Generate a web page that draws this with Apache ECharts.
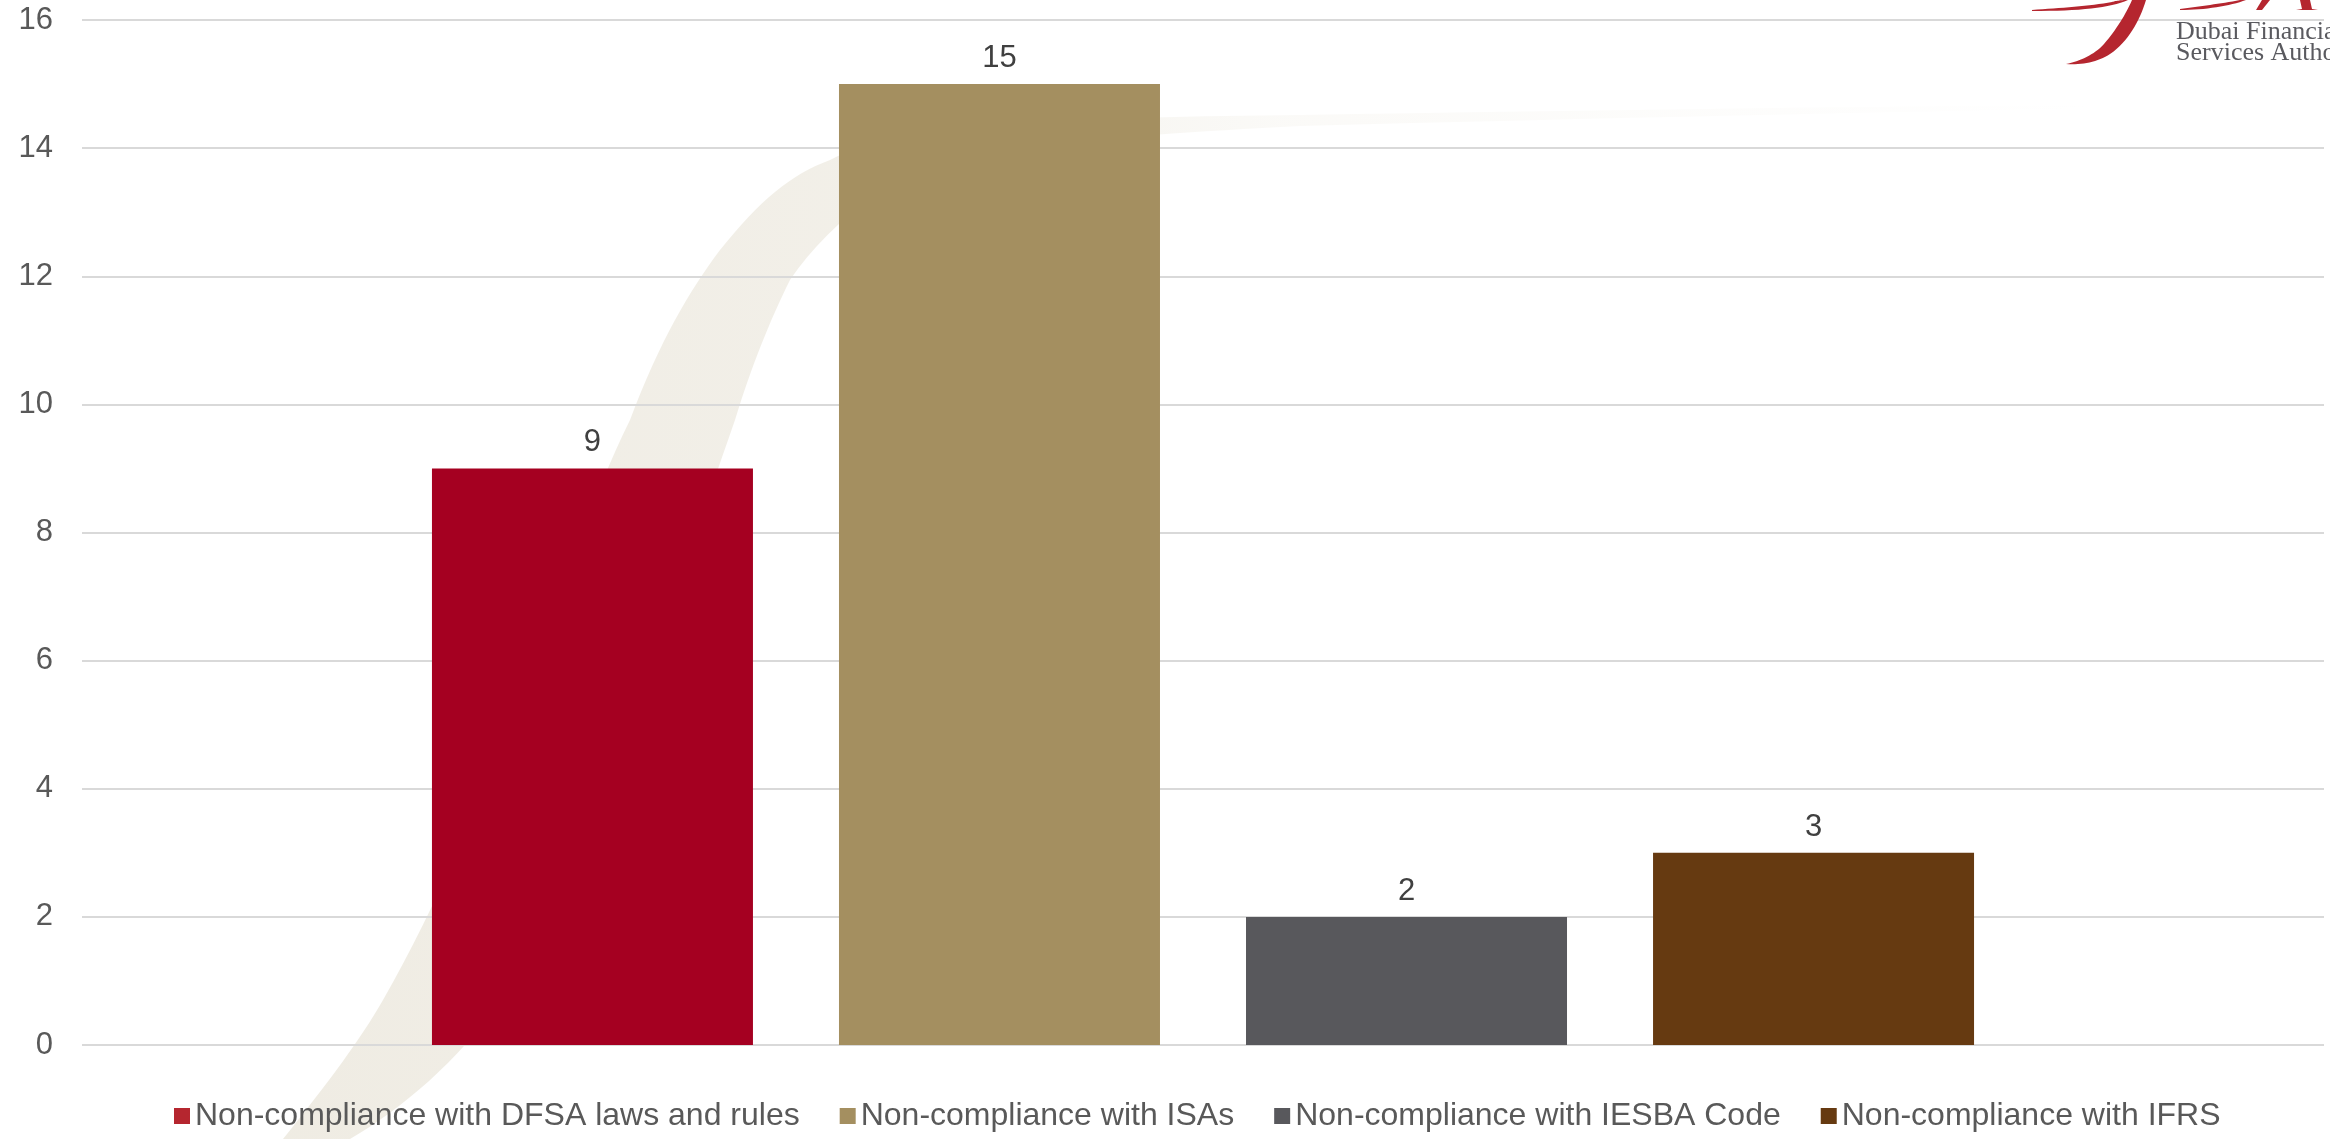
<!DOCTYPE html>
<html>
<head>
<meta charset="utf-8">
<title>Audit findings by type</title>
<script src="https://cdn.jsdelivr.net/npm/echarts@6/dist/echarts.min.js"></script>
<style>
  html, body { margin: 0; padding: 0; background: #ffffff; }
  #chart { width: 2330px; height: 1139px; }
</style>
</head>
<body>
<div id="chart"></div>
<script>
// Finding categories and counts
const categories = [
  'Non-compliance with DFSA laws and rules',
  'Non-compliance with ISAs',
  'Non-compliance with IESBA Code',
  'Non-compliance with IFRS'
];
const findings = [9, 15, 2, 3];
const barColors = ['#A50021', '#A48F60', '#58585C', '#663A11'];
const legendColors = ['#B5262F', '#A48F60', '#58585C', '#663A11'];

// Value axis range
const yMin = 0;
const yMax = 16;
const yStep = 2;

const FONT = '"Liberation Sans", Arial, Helvetica, sans-serif';

// Turn a run of cubic Bezier segments into polygon points
function curvePoints(start, segs) {
  const pts = [start.slice()];
  let p0 = start;
  segs.forEach(s => {
    const c1 = [s[0], s[1]], c2 = [s[2], s[3]], p3 = [s[4], s[5]];
    for (let k = 1; k <= 16; k++) {
      const t = k / 16, u = 1 - t;
      const a = u * u * u, b = 3 * u * u * t, c = 3 * u * t * t, d = t * t * t;
      pts.push([
        a * p0[0] + b * c1[0] + c * c2[0] + d * p3[0],
        a * p0[1] + b * c1[1] + c * c2[1] + d * p3[1]
      ]);
    }
    p0 = p3;
  });
  return pts;
}

const chart = echarts.init(document.getElementById('chart'), null, { renderer: 'canvas' });

const series = categories.map((name, i) => ({
  name: name,
  type: 'bar',
  data: [findings[i]],
  barWidth: 321,
  barGap: '26.8%',
  itemStyle: { color: barColors[i] },
  label: {
    show: true,
    position: 'top',
    distance: 10,
    color: '#404040',
    fontSize: 31,
    fontFamily: FONT
  },
  z: 3
}));

// Soft swoosh band behind the plot
const swoosh = curvePoints([283, 1139], [
  [330, 1080, 360, 1040, 383, 1000],
  [440, 900, 480, 800, 520, 700],
  [560, 600, 590, 500, 630, 420],
  [660, 340, 690, 290, 720, 250],
  [760, 200, 790, 175, 830, 160],
  [870, 140, 910, 128, 950, 125],
  [1100, 118, 1200, 116, 1300, 115],
  [1600, 110, 1900, 106, 2100, 105]
]).concat(curvePoints([2100, 108], [
  [1900, 112, 1600, 118, 1300, 126],
  [1200, 131, 1100, 138, 1000, 148],
  [940, 158, 900, 172, 880, 190],
  [840, 220, 810, 250, 790, 280],
  [770, 320, 750, 370, 735, 420],
  [700, 520, 670, 610, 640, 700],
  [600, 800, 560, 900, 500, 1000],
  [460, 1060, 400, 1110, 350, 1139]
]));

// Calligraphic strokes of the corner mark
const markF = curvePoints([2132, 0], [
  [2133, 0, 2145, 0, 2146, 0],
  [2140, 20, 2128, 42, 2110, 54],
  [2098, 62, 2082, 65, 2066, 64],
  [2080, 61, 2094, 55, 2104, 44],
  [2116, 30, 2126, 14, 2132, 0]
]);
const markD = curvePoints([2032, 10], [
  [2060, 8, 2090, 6, 2112, 2],
  [2115, 1, 2120, 0, 2128, 0],
  [2110, 8, 2080, 11, 2032, 11]
]);
const markS = curvePoints([2180, 9], [
  [2200, 6, 2220, 4, 2240, 0],
  [2242, 0, 2244, 0, 2246, 0],
  [2230, 6, 2205, 10, 2180, 10]
]);

const background = [
  {
    type: 'polygon', z: -10, silent: true,
    shape: { points: swoosh },
    style: {
      fill: {
        type: 'linear', x: 280, y: 0, x2: 2100, y2: 0, global: true,
        colorStops: [
          { offset: 0, color: 'rgba(226,220,204,0.55)' },
          { offset: 0.3, color: 'rgba(226,220,204,0.45)' },
          { offset: 0.55, color: 'rgba(226,220,204,0.15)' },
          { offset: 1, color: 'rgba(226,220,204,0)' }
        ]
      }
    }
  },
  {
    type: 'polygon', z: 10, silent: true,
    shape: { points: markF },
    style: { fill: '#B5262F' }
  },
  {
    type: 'polygon', z: 10, silent: true,
    shape: { points: markD },
    style: { fill: '#B5262F' }
  },
  {
    type: 'polygon', z: 10, silent: true,
    shape: { points: markS },
    style: { fill: '#B5262F' }
  },
  {
    type: 'polygon', z: 10, silent: true,
    shape: { points: [[2262, 0], [2270, 0], [2262, 10], [2256, 10]] },
    style: { fill: '#B5262F' }
  },
  {
    type: 'polygon', z: 10, silent: true,
    shape: { points: [[2300, 0], [2310, 0], [2312, 9], [2318, 10], [2296, 10], [2302, 9]] },
    style: { fill: '#B5262F' }
  },
  {
    type: 'text', z: 10, silent: true,
    x: 2176, y: 22,
    style: {
      text: 'Dubai Financial\nServices Authority',
      fill: '#5A5A5F',
      font: '26px "Liberation Serif", "DejaVu Serif", serif',
      lineHeight: 21
    }
  }
];

const option = {
  backgroundColor: '#ffffff',
  animation: false,
  textStyle: { fontFamily: FONT },
  grid: {
    left: 82,
    right: 6,
    top: 20,
    bottom: 94,
    containLabel: false
  },
  legend: {
    bottom: 2,
    left: 169,
    itemWidth: 16,
    itemHeight: 16,
    itemGap: 40,
    icon: 'rect',
    textStyle: { color: '#595959', fontSize: 32, fontFamily: FONT },
    data: categories.map((name, i) => ({ name: name, itemStyle: { color: legendColors[i] } }))
  },
  xAxis: {
    type: 'category',
    data: [''],
    axisLine: { show: false },
    axisTick: { show: false },
    axisLabel: { show: false }
  },
  yAxis: {
    type: 'value',
    min: yMin,
    max: yMax,
    interval: yStep,
    axisLine: { show: false },
    axisTick: { show: false },
    axisLabel: { color: '#595959', fontSize: 31, fontFamily: FONT, margin: 29 },
    splitLine: { lineStyle: { color: '#D9D9D9', width: 2 } }
  },
  graphic: background,
  series: series
};

chart.setOption(option);
</script>
</body>
</html>
